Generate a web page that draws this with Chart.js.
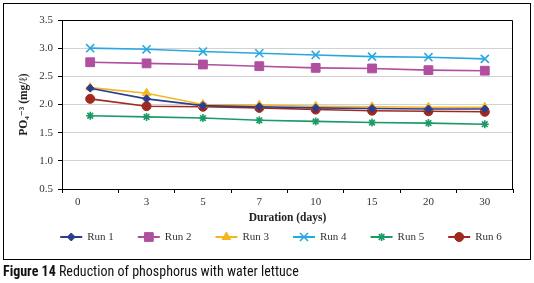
<!DOCTYPE html>
<html>
<head>
<meta charset="utf-8">
<script src="https://cdn.jsdelivr.net/npm/chart.js@4.4.1/dist/chart.umd.min.js"></script>
<style>
  html, body { margin: 0; padding: 0; background: #fff; }
  #wrap { position: relative; width: 534px; height: 283px; overflow: hidden; }
  #frame { position: absolute; left: 3px; top: 3px; width: 526px; height: 255px; border: 1px solid #000; }
  #chart { position: absolute; left: 0; top: 0; }
  #caption {
    position: absolute; left: 3px; top: 263px; white-space: nowrap;
    font-family: "Liberation Sans Narrow", "Roboto Condensed", "Liberation Sans", sans-serif;
    font-size: 14px; color: #111;
  }
  #caption b { font-weight: bold; }
</style>
</head>
<body>
<div id="wrap">
  <div id="frame"></div>
  <canvas id="chart" width="534" height="283"></canvas>
  <div id="caption"><b>Figure 14</b> Reduction of phosphorus with water lettuce</div>
</div>
<script>
// values (PO4 in mg/l per sampling day)
const days = ['0', '3', '5', '7', '10', '15', '20', '30'];
const run1 = [2.29, 2.10, 1.98, 1.96, 1.94, 1.93, 1.92, 1.92];
const run2 = [2.75, 2.73, 2.71, 2.68, 2.65, 2.64, 2.61, 2.60];
const run3 = [2.30, 2.20, 2.00, 1.99, 1.97, 1.96, 1.95, 1.95];
const run4 = [3.00, 2.98, 2.94, 2.91, 2.88, 2.85, 2.84, 2.81];
const run5 = [1.80, 1.78, 1.76, 1.72, 1.70, 1.68, 1.67, 1.65];
const run6 = [2.10, 1.97, 1.96, 1.94, 1.91, 1.89, 1.88, 1.87];
const yTicks = [0.5, 1.0, 1.5, 2.0, 2.5, 3.0, 3.5];

const serif = '"Liberation Serif", "DejaVu Serif", serif';
Chart.defaults.font.family = serif;
Chart.defaults.font.size = 11;
Chart.defaults.color = '#333';

function series(label, data, color, style, radius, bw) {
  return {
    label, data,
    borderColor: color,
    backgroundColor: color,
    pointBackgroundColor: color,
    pointBorderColor: color,
    pointStyle: style,
    pointRadius: radius,
    pointBorderWidth: bw,
    borderWidth: 1.6,
    tension: 0
  };
}

// line + marker legend under the axis title
const runLegend = {
  id: 'runLegend',
  afterDraw(chart) {
    const ctx = chart.ctx;
    ctx.save();
    ctx.font = '11px ' + serif;
    const lineLen = 22, gap = 5, itemGap = 24, y = 237;
    const items = chart.data.datasets.map(ds => ({ ds, tw: ctx.measureText(ds.label).width }));
    const total = items.reduce((a, it) => a + lineLen + gap + it.tw, 0) + itemGap * (items.length - 1);
    let x = 281 - total / 2;
    items.forEach(({ ds, tw }) => {
      ctx.strokeStyle = ds.borderColor;
      ctx.lineWidth = 2;
      ctx.beginPath();
      ctx.moveTo(x, y);
      ctx.lineTo(x + lineLen, y);
      ctx.stroke();
      ctx.fillStyle = ds.pointBackgroundColor;
      ctx.strokeStyle = ds.pointBorderColor;
      ctx.lineWidth = ds.pointBorderWidth;
      Chart.helpers.drawPoint(ctx, {
        pointStyle: ds.pointStyle, radius: ds.pointRadius,
        borderWidth: ds.pointBorderWidth, rotation: 0
      }, x + lineLen / 2, y);
      ctx.fillStyle = '#333';
      ctx.textBaseline = 'middle';
      ctx.textAlign = 'left';
      ctx.fillText(ds.label, x + lineLen + gap, y + 0.5);
      x += lineLen + gap + tw + itemGap;
    });
    ctx.restore();
  }
};

// black top/right edges of the plot box
const plotBox = {
  id: 'plotBox',
  afterDatasetsDraw(chart) {
    const { ctx, chartArea: a } = chart;
    ctx.save();
    ctx.strokeStyle = '#000';
    ctx.lineWidth = 1;
    ctx.beginPath();
    ctx.moveTo(a.left, a.top + 0.5);
    ctx.lineTo(a.right - 0.5, a.top + 0.5);
    ctx.lineTo(a.right - 0.5, a.bottom);
    ctx.stroke();
    ctx.restore();
  }
};

new Chart(document.getElementById('chart'), {
  type: 'line',
  data: {
    labels: days,
    datasets: [
      series('Run 1', run1, '#2c3d8f', 'rectRot', 4, 1),
      series('Run 2', run2, '#b04f9e', 'rect', 6.2, 1),
      series('Run 3', run3, '#f4b521', 'triangle', 5, 1),
      series('Run 4', run4, '#29a8e0', 'crossRot', 5.7, 1.6),
      series('Run 5', run5, '#1c9a66', 'star', 4, 1.6),
      series('Run 6', run6, '#a1281d', 'circle', 4.5, 1)
    ]
  },
  options: {
    responsive: false,
    animation: false,
    layout: { padding: { left: 0, top: 20, right: 21, bottom: 54 } },
    plugins: { legend: { display: false }, tooltip: { enabled: false } },
    scales: {
      x: {
        offset: true,
        afterFit: s => { s.height = 40; },
        grid: { offset: true, drawOnChartArea: false, tickLength: 4, tickColor: '#000' },
        border: { color: '#000', width: 1 },
        ticks: {
          padding: 3,
          color: '#333',
          callback: (v, i) => i === 0 ? days[i] + '         ' : days[i]
        },
        title: {
          display: true, text: 'Duration (days)',
          font: { weight: 'bold', size: 11.5 }, color: '#222',
          padding: { top: 0, bottom: 4 }
        }
      },
      y: {
        min: 0.5, max: 3.5,
        afterFit: s => { s.width = 62; },
        afterBuildTicks: s => { s.ticks = yTicks.map(v => ({ value: v })); },
        grid: { color: '#d2d2d2', tickLength: 4, tickColor: '#000' },
        border: { color: '#000', width: 1 },
        ticks: { padding: 5, color: '#333', callback: v => Number(v).toFixed(1) },
        title: {
          display: true, text: 'PO\u2084\u207B\u00B3 (mg/\u2113)',
          font: { weight: 'bold', size: 11.5 }, color: '#222',
          padding: { top: 17, bottom: 0 }
        }
      }
    }
  },
  plugins: [runLegend, plotBox]
});
</script>
</body>
</html>
